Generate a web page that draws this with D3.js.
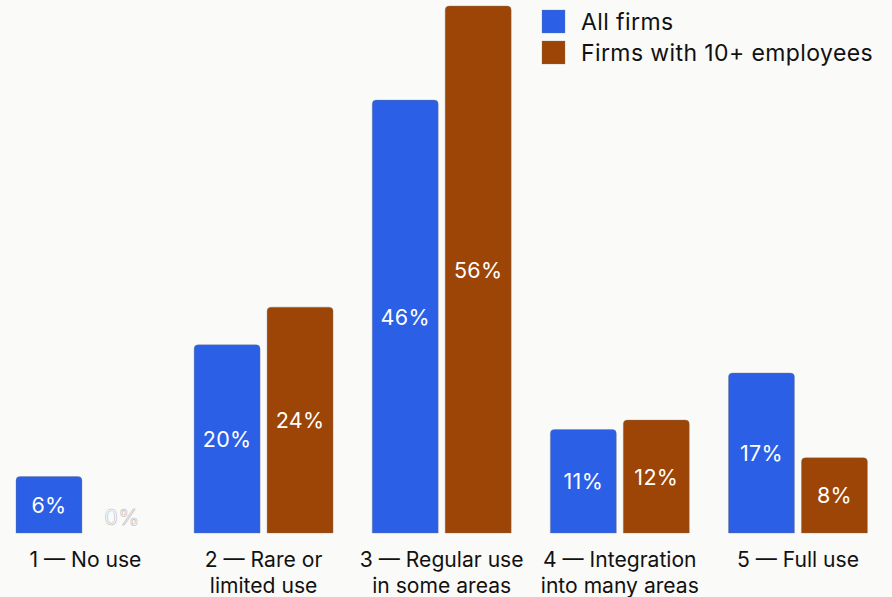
<!DOCTYPE html>
<html>
<head>
<meta charset="utf-8">
<script src="https://cdn.jsdelivr.net/npm/d3@7"></script>
<style>
  html, body { margin: 0; padding: 0; background: #fafaf9; }
  svg { display: block; }
  text { font-family: Inter, "Noto Sans", sans-serif; }
</style>
</head>
<body>
<svg id="chart" width="892" height="597"></svg>
<script>
// AI adoption levels: share of firms at each stage
const categories = [
  ["1 — No use"],
  ["2 — Rare or", "limited use"],
  ["3 — Regular use", "in some areas"],
  ["4 — Integration", "into many areas"],
  ["5 — Full use"]
];
const seriesNames = ["All firms", "Firms with 10+ employees"];
const allFirms = [6, 20, 46, 11, 17];
const firms10plus = [0, 24, 56, 12, 8];
const seriesColors = ["#2a5fe6", "#9c4506"];

const W = 892, H = 597;
const baseY = 533, topY = 6;
const svg = d3.select("#chart");

const catKeys = categories.map(c => c.join(" "));
const values = [allFirms, firms10plus];

const x0 = d3.scaleBand().domain(catKeys).range([-3.6, 887])
  .paddingInner(0.22).paddingOuter(0.11);
const x1 = d3.scaleBand().domain(seriesNames).range([0, x0.bandwidth()])
  .paddingInner(0.096).paddingOuter(0);
const y = d3.scaleLinear().domain([0, d3.max(firms10plus)]).range([baseY, topY]);

// bar with rounded top corners only
function barPath(x, yTop, w, h, r) {
  if (h <= 0) return "";
  r = Math.min(r, h, w / 2);
  return `M${x},${yTop + h}V${yTop + r}Q${x},${yTop} ${x + r},${yTop}` +
         `H${x + w - r}Q${x + w},${yTop} ${x + w},${yTop + r}V${yTop + h}Z`;
}

const groups = svg.selectAll("g.group")
  .data(catKeys)
  .join("g")
  .attr("class", "group")
  .attr("transform", d => `translate(${x0(d)},0)`);

groups.each(function(cat, i) {
  const g = d3.select(this);
  seriesNames.forEach((s, si) => {
    const v = values[si][i];
    const bx = x1(s), bw = x1.bandwidth();
    const yt = y(v);
    g.append("path")
      .attr("d", barPath(bx, yt, bw, baseY - yt, 4))
      .attr("fill", seriesColors[si])
      .attr("stroke", "rgba(120,120,120,0.45)")
      .attr("stroke-width", 0.8);
    const cy = Math.min((yt + baseY) / 2, baseY - 16);
    const t = g.append("text")
      .attr("x", bx + bw / 2)
      .attr("y", cy)
      .attr("text-anchor", "middle")
      .attr("dominant-baseline", "central")
      .attr("font-size", 21.5)
      .attr("letter-spacing", 0.3)
      .attr("fill", "#ffffff")
      .text(v + "%");
    if (v === 0) {
      t.attr("stroke", "#b8b8b8").attr("stroke-width", 0.6);
    }
  });
});

// category labels under each group
const xAxisG = svg.append("g");
categories.forEach((lines, i) => {
  const cx = x0(catKeys[i]) + x0.bandwidth() / 2;
  const t = xAxisG.append("text")
    .attr("x", cx)
    .attr("y", 567)
    .attr("text-anchor", "middle")
    .attr("font-size", 21.1)
    .attr("fill", "#111");
  lines.forEach((ln, li) => {
    t.append("tspan").attr("x", cx).attr("dy", li === 0 ? 0 : 26).text(ln);
  });
});

// legend
const legend = svg.append("g").attr("transform", "translate(542,10)");
seriesNames.forEach((s, i) => {
  const row = legend.append("g").attr("transform", `translate(0,${i * 31})`);
  row.append("rect").attr("width", 23).attr("height", 23)
    .attr("fill", seriesColors[i])
    .attr("stroke", "rgba(120,120,120,0.45)").attr("stroke-width", 0.6);
  row.append("text").attr("x", 39).attr("y", 19.5)
    .attr("font-size", 23).attr("letter-spacing", 0.4)
    .attr("fill", "#111").text(s);
});
</script>
</body>
</html>
